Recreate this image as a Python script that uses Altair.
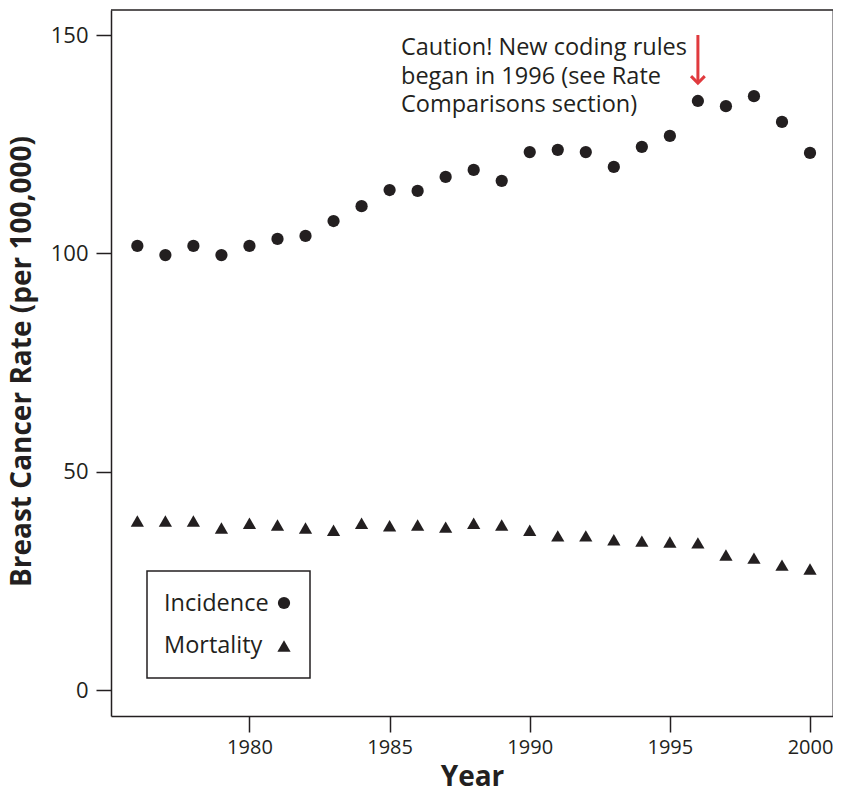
import altair as alt
import pandas as pd

years = list(range(1976, 2001))
incidence = [101.7, 99.6, 101.7, 99.6, 101.7, 103.3, 104.0, 107.4, 110.8, 114.5,
             114.3, 117.5, 119.1, 116.6, 123.2, 123.7, 123.2, 119.8, 124.4, 126.9,
             134.9, 133.7, 136.0, 130.1, 123.0]
mortality = [38.7, 38.7, 38.7, 37.1, 38.2, 37.8, 37.1, 36.6, 38.2, 37.6,
             37.8, 37.3, 38.2, 37.8, 36.6, 35.3, 35.3, 34.4, 34.1, 33.9,
             33.7, 30.9, 30.2, 28.6, 27.7]
x_ticks = [1980, 1985, 1990, 1995, 2000]
y_ticks = [0, 50, 100, 150]
annotation_lines = ["Caution! New coding rules", "began in 1996 (see Rate", "Comparisons section)"]
legend_labels = ["Incidence", "Mortality"]
arrow_year = [1996]
arrow_top = [150.0]
arrow_bottom = [139.0]

W, H = 722, 706
FONT = "Open Sans"
INK = "#231f20"
RED = "#e03a3e"

df = pd.DataFrame({
    "Year": years * 2,
    "Rate": incidence + mortality,
    "Series": ["Incidence"] * len(years) + ["Mortality"] * len(years),
})

xs = alt.Scale(domain=[1975.06, 2000.82], nice=False, zero=False)
ys = alt.Scale(domain=[-5.95, 155.73], nice=False, zero=False)

x_axis = alt.Axis(values=x_ticks, format="d", title="Year", grid=False,
                  tickSize=16, labelPadding=5, labelFontSize=20,
                  titleY=61, titleBaseline="middle")
y_axis = alt.Axis(values=y_ticks, format="d", title="Breast Cancer Rate (per 100,000)",
                  grid=False, tickSize=15, labelPadding=8, labelFontSize=22,
                  titleX=-89, titleY=351, titleAlign="center", titleBaseline="middle")

shape_scale = alt.Scale(domain=legend_labels, range=["circle", "triangle-up"])
size_scale = alt.Scale(domain=legend_labels, range=[150, 175])

points = alt.Chart(df).mark_point(filled=True, opacity=1, color=INK).encode(
    x=alt.X("Year:Q", scale=xs, axis=x_axis),
    y=alt.Y("Rate:Q", scale=ys, axis=y_axis),
    shape=alt.Shape("Series:N", scale=shape_scale, legend=None),
    size=alt.Size("Series:N", scale=size_scale, legend=None),
)

top_line = alt.Chart(pd.DataFrame({"a": [0]})).mark_rule(color=INK, strokeWidth=1.5).encode(
    x=alt.value(0), x2=alt.value(W), y=alt.value(0))

arrow_df = pd.DataFrame({"Year": arrow_year, "top": arrow_top, "bottom": arrow_bottom})
shaft = alt.Chart(arrow_df).mark_rule(color=RED, strokeWidth=3).encode(
    x=alt.X("Year:Q", scale=xs), y=alt.Y("top:Q", scale=ys), y2="bottom:Q")
head = alt.Chart(arrow_df).mark_point(
    shape="M-1,-1L0,0L1,-1", filled=False, color=RED, strokeWidth=3, size=190, opacity=1
).encode(x=alt.X("Year:Q", scale=xs), y=alt.Y("bottom:Q", scale=ys))

note = alt.Chart(pd.DataFrame({"a": [0]})).mark_text(
    align="left", baseline="alphabetic", font=FONT, fontSize=23.5, color=INK, lineHeight=28.5
).encode(x=alt.value(290), y=alt.value(45), text=alt.value(annotation_lines))

legend_box = alt.Chart(pd.DataFrame({"a": [0]})).mark_rect(
    fill="white", stroke=INK, strokeWidth=1.5
).encode(x=alt.value(36), x2=alt.value(199), y=alt.value(561), y2=alt.value(668))

leg_df = pd.DataFrame({"label": legend_labels, "row": [0, 1]})
leg_text = alt.Chart(leg_df).mark_text(
    align="left", baseline="alphabetic", font=FONT, fontSize=23.5, color=INK
).encode(
    x=alt.value(53),
    y=alt.Y("row:Q", scale=alt.Scale(domain=[0, 1], range=[601, 643]), axis=None),
    text="label:N",
)
leg_sym = alt.Chart(leg_df).mark_point(filled=True, opacity=1, color=INK).encode(
    x=alt.value(173),
    y=alt.Y("row:Q", scale=alt.Scale(domain=[0, 1], range=[593, 636]), axis=None),
    shape=alt.Shape("label:N", scale=shape_scale, legend=None),
    size=alt.Size("label:N", scale=size_scale, legend=None),
)

chart = alt.layer(top_line, points, shaft, head, note, legend_box, leg_text, leg_sym).resolve_scale(
    y="independent"
).properties(
    width=W, height=H,
    autosize=alt.AutoSizeParams(type="none"),
    padding={"left": 103, "top": 2, "right": 0, "bottom": 72},
).configure_view(stroke=None).configure_axis(
    domainColor=INK, domainWidth=1.5, tickColor=INK, tickWidth=1.5,
    labelFont=FONT, labelColor=INK,
    titleFont=FONT, titleFontSize=28, titleFontWeight="bold", titleColor=INK,
)

chart.save("out.html", embed_options={"renderer": "svg", "actions": False})
